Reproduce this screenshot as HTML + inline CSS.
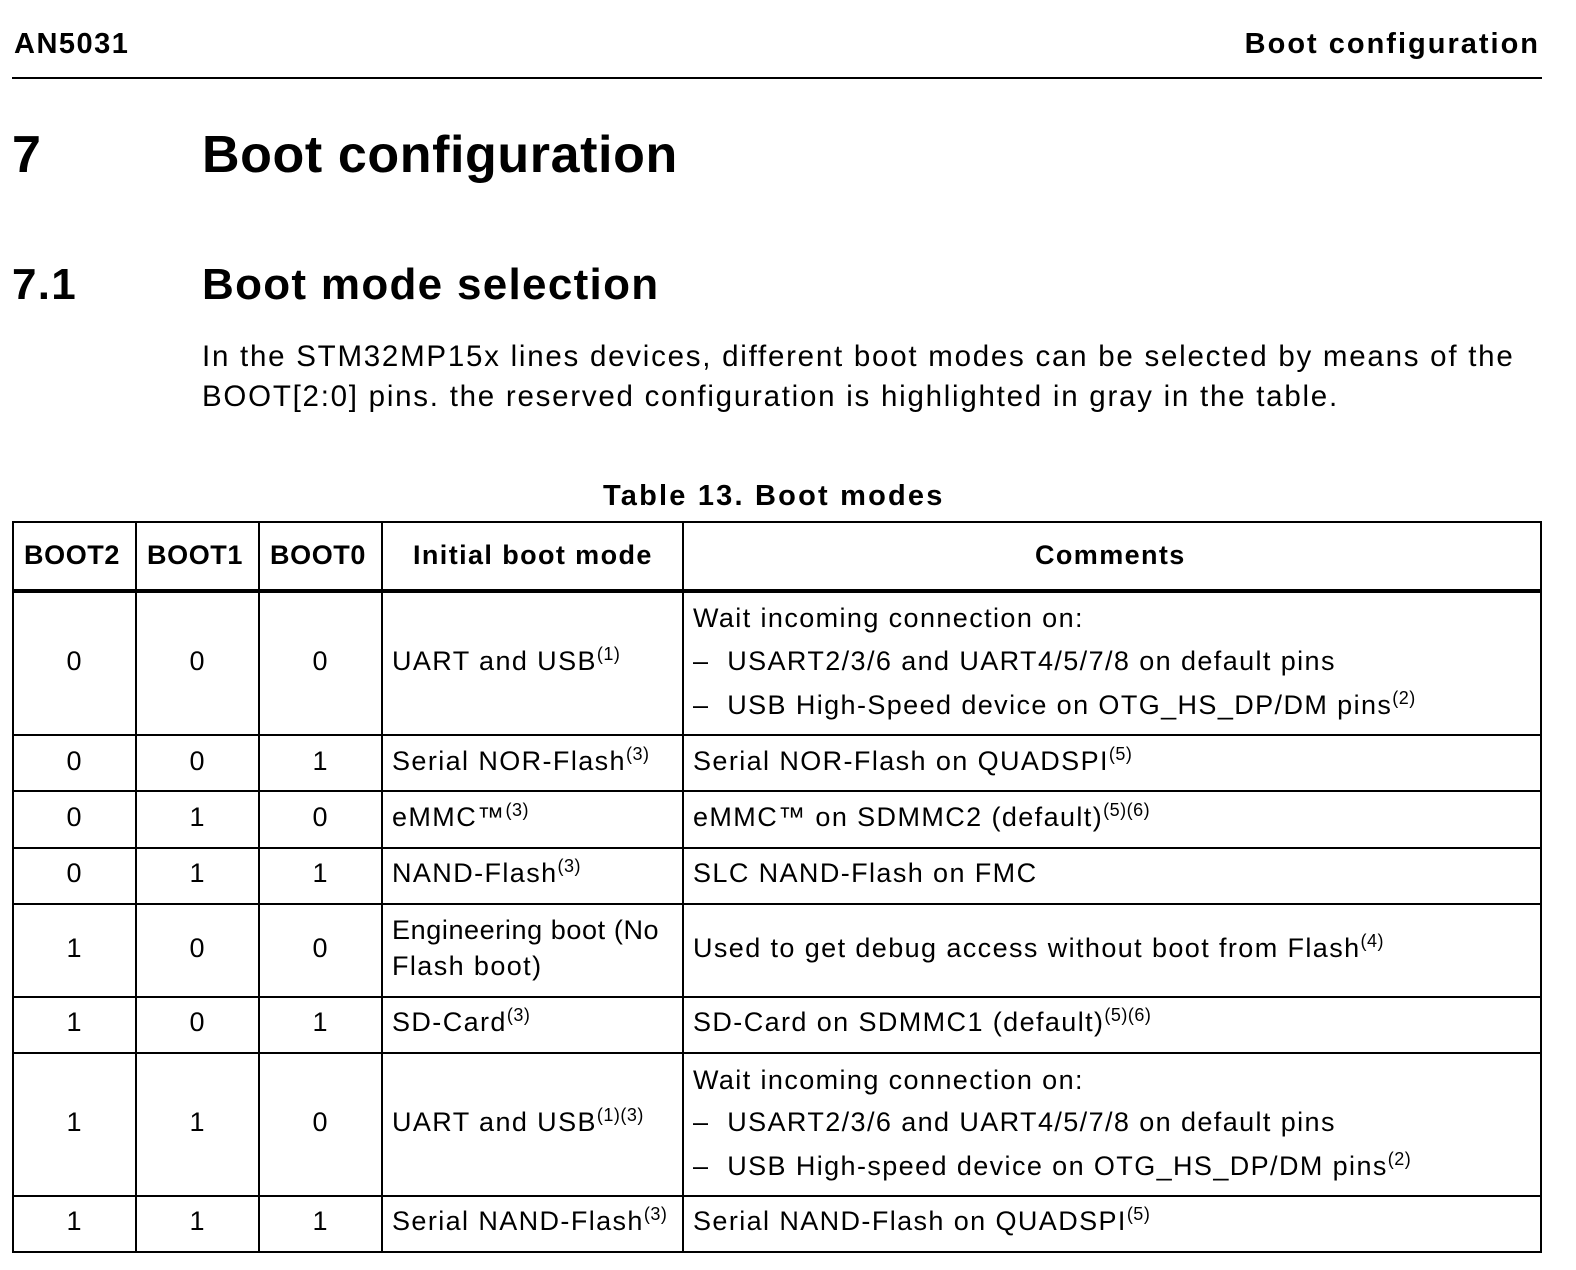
<!DOCTYPE html>
<html><head><meta charset="utf-8"><style>
body{margin:0;width:1576px;height:1270px;background:#fff;position:relative;font-family:"Liberation Sans",Arial,sans-serif;color:#000;overflow:hidden}
.t{position:absolute;white-space:nowrap;line-height:40px;height:40px}
.b{font-weight:bold}
.hl{position:absolute;background:#000;height:2px}
.vl{position:absolute;background:#000;width:2px;top:521px;height:732px}
.c{font-size:27px;letter-spacing:1.4px}
.cc{text-align:center;width:100px;margin-left:-50px;letter-spacing:0}
sup{font-size:18px;vertical-align:10px;line-height:0;letter-spacing:0.5px}
</style></head><body>
<div class="t b" style="left:14px;top:24px;font-size:29px;letter-spacing:1.5px">AN5031</div>
<div class="t b" style="right:36px;top:24px;font-size:29px;letter-spacing:2px">Boot configuration</div>
<div class="hl" style="left:12px;width:1530px;top:77px"></div>
<div class="t b" style="left:12px;top:130px;font-size:52px;height:50px;line-height:50px">7</div>
<div class="t b" style="left:202px;top:130px;font-size:52px;height:50px;line-height:50px;letter-spacing:0.6px">Boot configuration</div>
<div class="t b" style="left:12px;top:262px;font-size:44px;height:46px;line-height:46px;letter-spacing:1.3px">7.1</div>
<div class="t b" style="left:202px;top:262px;font-size:44px;height:46px;line-height:46px;letter-spacing:1.3px">Boot mode selection</div>
<div class="t" style="left:202px;top:337px;font-size:29.5px;letter-spacing:1.75px">In the STM32MP15x lines devices, different boot modes can be selected by means of the</div>
<div class="t" style="left:202px;top:377px;font-size:29.5px;letter-spacing:1.75px">BOOT[2:0] pins. the reserved configuration is highlighted in gray in the table.</div>
<div class="t b" style="left:603px;top:476px;font-size:29px;letter-spacing:2.2px">Table 13. Boot modes</div>

<div class="hl" style="left:12px;width:1530px;top:521px"></div>
<div class="hl" style="left:12px;width:1530px;top:589px;height:4px"></div>
<div class="hl" style="left:12px;width:1530px;top:734px"></div>
<div class="hl" style="left:12px;width:1530px;top:790px"></div>
<div class="hl" style="left:12px;width:1530px;top:847px"></div>
<div class="hl" style="left:12px;width:1530px;top:903px"></div>
<div class="hl" style="left:12px;width:1530px;top:996px"></div>
<div class="hl" style="left:12px;width:1530px;top:1052px"></div>
<div class="hl" style="left:12px;width:1530px;top:1195px"></div>
<div class="hl" style="left:12px;width:1530px;top:1251px"></div>
<div class="vl" style="left:12px"></div>
<div class="vl" style="left:135px"></div>
<div class="vl" style="left:258px"></div>
<div class="vl" style="left:381px"></div>
<div class="vl" style="left:682px"></div>
<div class="vl" style="left:1540px"></div>

<div class="t b c" style="left:24px;top:535px;letter-spacing:0.6px">BOOT2</div>
<div class="t b c" style="left:147px;top:535px;letter-spacing:0.6px">BOOT1</div>
<div class="t b c" style="left:270px;top:535px;letter-spacing:0.6px">BOOT0</div>
<div class="t b c" style="left:413px;top:535px">Initial boot mode</div>
<div class="t b c" style="left:1035px;top:535px">Comments</div>

<div class="t c cc" style="left:74px;top:641px">0</div><div class="t c cc" style="left:197px;top:641px">0</div><div class="t c cc" style="left:320px;top:641px">0</div>
<div class="t c" style="left:392px;top:641px">UART and USB<sup>(1)</sup></div>
<div class="t c" style="left:693px;top:598px">Wait incoming connection on:</div>
<div class="t c" style="left:693px;top:641px">–&nbsp; USART2/3/6 and UART4/5/7/8 on default pins</div>
<div class="t c" style="left:693px;top:685px">–&nbsp; USB High-Speed device on OTG_HS_DP/DM pins<sup>(2)</sup></div>

<div class="t c cc" style="left:74px;top:741px">0</div><div class="t c cc" style="left:197px;top:741px">0</div><div class="t c cc" style="left:320px;top:741px">1</div>
<div class="t c" style="left:392px;top:741px">Serial NOR-Flash<sup>(3)</sup></div>
<div class="t c" style="left:693px;top:741px">Serial NOR-Flash on QUADSPI<sup>(5)</sup></div>

<div class="t c cc" style="left:74px;top:797px">0</div><div class="t c cc" style="left:197px;top:797px">1</div><div class="t c cc" style="left:320px;top:797px">0</div>
<div class="t c" style="left:392px;top:797px">eMMC™<sup>(3)</sup></div>
<div class="t c" style="left:693px;top:797px">eMMC™ on SDMMC2 (default)<sup>(5)(6)</sup></div>

<div class="t c cc" style="left:74px;top:853px">0</div><div class="t c cc" style="left:197px;top:853px">1</div><div class="t c cc" style="left:320px;top:853px">1</div>
<div class="t c" style="left:392px;top:853px">NAND-Flash<sup>(3)</sup></div>
<div class="t c" style="left:693px;top:853px">SLC NAND-Flash on FMC</div>

<div class="t c cc" style="left:74px;top:928px">1</div><div class="t c cc" style="left:197px;top:928px">0</div><div class="t c cc" style="left:320px;top:928px">0</div>
<div class="t c" style="left:392px;top:910px;letter-spacing:0.6px">Engineering boot (No</div>
<div class="t c" style="left:392px;top:946px">Flash boot)</div>
<div class="t c" style="left:693px;top:928px">Used to get debug access without boot from Flash<sup>(4)</sup></div>

<div class="t c cc" style="left:74px;top:1002px">1</div><div class="t c cc" style="left:197px;top:1002px">0</div><div class="t c cc" style="left:320px;top:1002px">1</div>
<div class="t c" style="left:392px;top:1002px">SD-Card<sup>(3)</sup></div>
<div class="t c" style="left:693px;top:1002px">SD-Card on SDMMC1 (default)<sup>(5)(6)</sup></div>

<div class="t c cc" style="left:74px;top:1102px">1</div><div class="t c cc" style="left:197px;top:1102px">1</div><div class="t c cc" style="left:320px;top:1102px">0</div>
<div class="t c" style="left:392px;top:1102px">UART and USB<sup>(1)(3)</sup></div>
<div class="t c" style="left:693px;top:1060px">Wait incoming connection on:</div>
<div class="t c" style="left:693px;top:1102px">–&nbsp; USART2/3/6 and UART4/5/7/8 on default pins</div>
<div class="t c" style="left:693px;top:1146px">–&nbsp; USB High-speed device on OTG_HS_DP/DM pins<sup>(2)</sup></div>

<div class="t c cc" style="left:74px;top:1201px">1</div><div class="t c cc" style="left:197px;top:1201px">1</div><div class="t c cc" style="left:320px;top:1201px">1</div>
<div class="t c" style="left:392px;top:1201px">Serial NAND-Flash<sup>(3)</sup></div>
<div class="t c" style="left:693px;top:1201px">Serial NAND-Flash on QUADSPI<sup>(5)</sup></div>
</body></html>
